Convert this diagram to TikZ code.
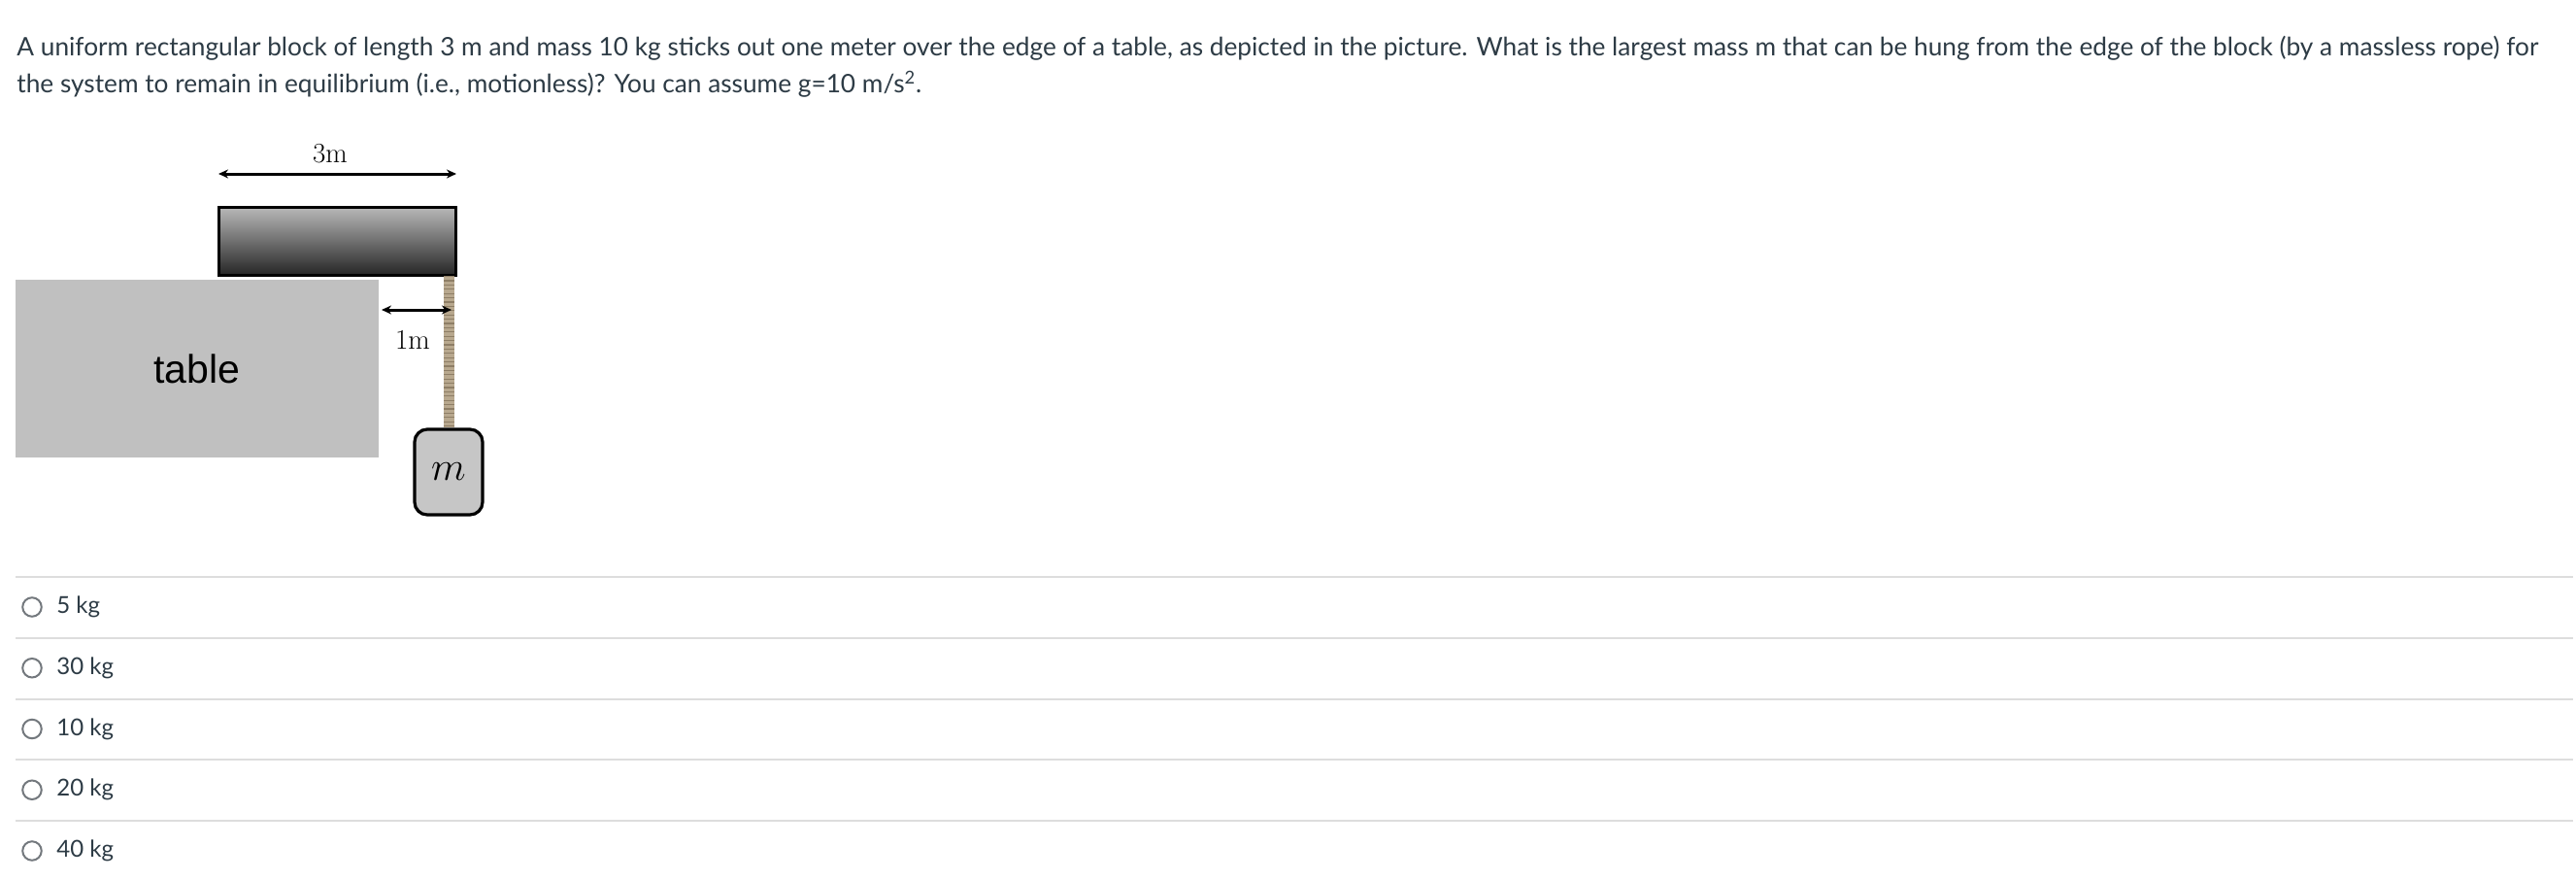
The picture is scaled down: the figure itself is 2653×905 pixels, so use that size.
\documentclass[tikz,border=0pt]{standalone}
\usepackage{fontspec}
\setmainfont{Lato}
\newfontfamily\arialfont{Liberation Sans}
\usetikzlibrary{arrows.meta}

\definecolor{canvastext}{HTML}{2D3B45}
\definecolor{tablegray}{HTML}{C0C0C0}
\definecolor{ropetan}{HTML}{B8A88E}
\definecolor{ropedark}{HTML}{8E7E66}
\definecolor{sepgray}{HTML}{DDDDDD}
\definecolor{radiogray}{HTML}{73787D}

\tikzset{
  qtext/.style={anchor=base west, inner sep=0pt, text=canvastext, font=\fontsize{13.12}{16}\selectfont},
  opttext/.style={anchor=west, inner sep=0pt, text=canvastext, font=\fontsize{12}{14}\selectfont},
  dimline/.style={line width=1.5pt, {Stealth[length=5pt,width=4.5pt]}-{Stealth[length=5pt,width=4.5pt]}},
  dimlabel/.style={font=\fontsize{14.5}{16}\rmfamily\selectfont\fontspec{Latin Modern Roman}, inner sep=0pt},
  radio/.style={draw=radiogray, line width=1pt, circle, minimum size=9.75pt, inner sep=0pt}
}

\begin{document}
\begin{tikzpicture}[x=0.5pt, y=-0.5pt]
	\useasboundingbox (0,0) rectangle (2653,905);

	% question
	\node[qtext] (q1) at (17,57) {A uniform rectangular block of length 3 m and mass 10 kg sticks out one meter over the edge of a table, as depicted in the picture. What is the largest mass m that can be hung from the edge of the block (by a massless rope) for};
	\node[qtext] (q2) at (17,95) {the system to remain in equilibrium (i.e., motionless)? You can assume g=10 m/s\textsuperscript{2}.};

	% table
	\fill[tablegray] (16,288) rectangle (390,471);
	\node[font=\arialfont\fontsize{20.5}{24}\selectfont] (table) at (203,380) {table};

	% block
	\shade[top color=gray!55, middle color=gray!60!black, bottom color=black!85] (225,213) rectangle (469,283);
	\draw[line width=1.5pt] (225,213) rectangle (469,283);
	\coordinate (blockend) at (462,284);

	% mass
	\node[draw, line width=1.6pt, fill=gray!45, rounded corners=6.5pt, minimum width=35pt, minimum height=44pt, inner sep=0pt] (mass) at (462,486) {};
	\node[font=\fontsize{21}{22}\selectfont] (mlabel) at (mass.center) {$m$};

	% rope
	\draw[ropetan, line width=5.5pt] (blockend) -- (mass.north);
	\draw[ropedark, line width=5.5pt, dash pattern=on 0.6pt off 1.6pt] (blockend) -- (mass.north);

	% dimensions
	\coordinate (a3) at (225,179);
	\coordinate (b3) at (470,179);
	\draw[dimline] (a3) -- (b3);
	\node[dimlabel] (l3) at (340,158) {3m};

	\coordinate (a1) at (393,319);
	\coordinate (b1) at (465,319);
	\draw[dimline] (a1) -- (b1);
	\node[dimlabel] (l1) at (425,350) {1m};

	% answers
	\foreach \val [count=\i from 0] in {5,30,10,20,40} {
		\draw[sepgray, line width=1pt] (16,594+62.75*\i) -- (2650,594+62.75*\i);
		\node[radio] (r\i) at (33,625+62.75*\i) {};
		\node[opttext] (o\i) at (58,625+62.75*\i) {\val\ kg};
	}
\end{tikzpicture}
\end{document}
